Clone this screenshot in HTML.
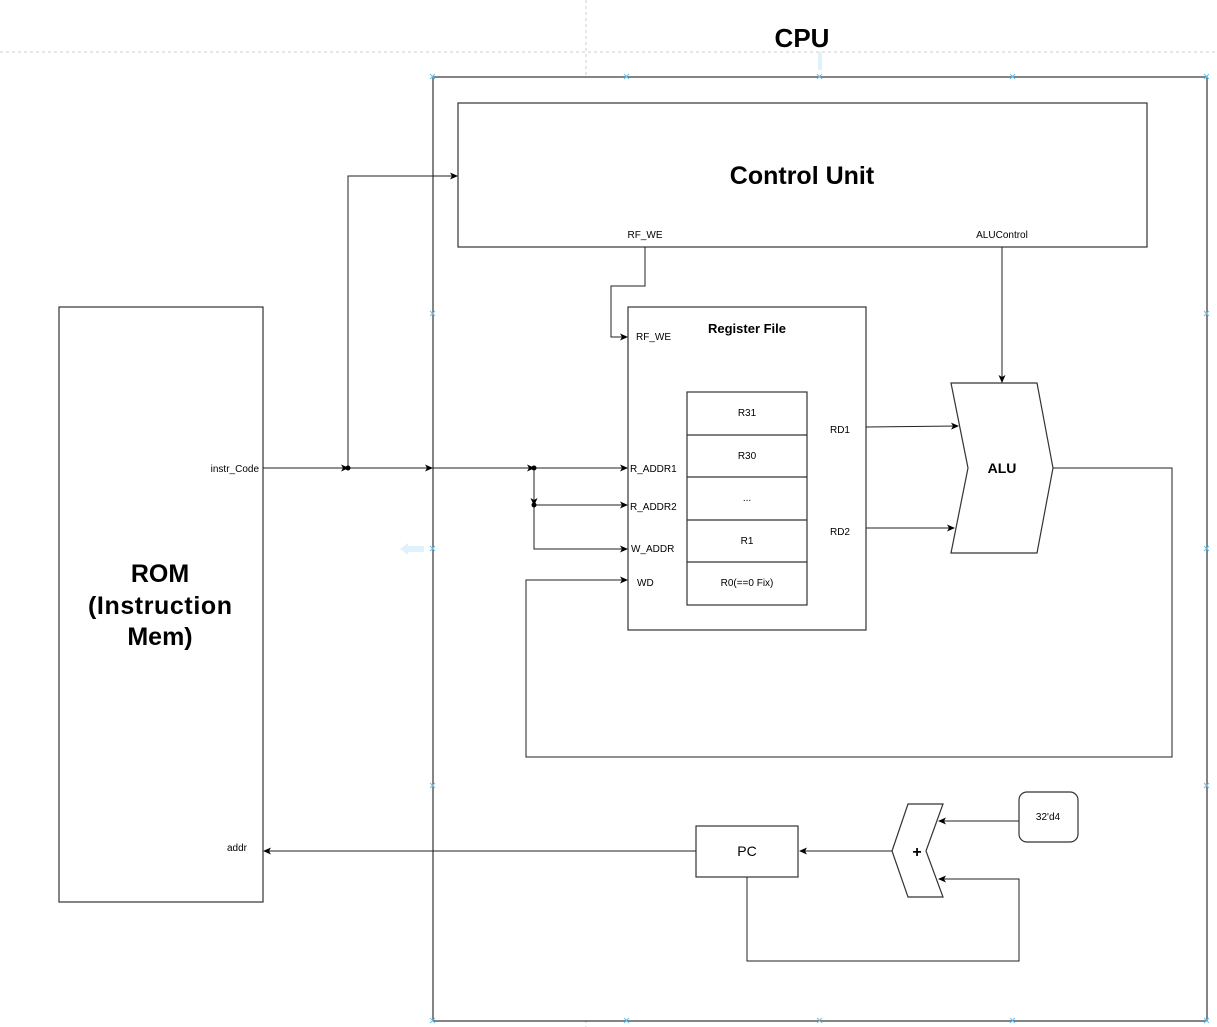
<!DOCTYPE html>
<html><head><style>body{margin:0;background:#fff}svg{display:block}text{font-family:"Liberation Sans",Arial,sans-serif}</style></head>
<body>
<svg width="1217" height="1027" viewBox="0 0 1217 1027" xmlns="http://www.w3.org/2000/svg">
<defs><marker id="a" markerWidth="8" markerHeight="8" refX="7" refY="4" orient="auto" markerUnits="userSpaceOnUse"><path d="M0,0.5 L8,4 L0,7.5 L2,4z" fill="#000"/></marker></defs>
<g stroke="#ccc" stroke-dasharray="3,3" stroke-width="1"><line x1="0" y1="52" x2="1217" y2="52"/><line x1="586" y1="0" x2="586" y2="76"/><line x1="586" y1="1020" x2="586" y2="1027"/></g>
<rect x="818" y="52" width="4" height="18" fill="#dff1fb"/>
<path d="M400,549 l8,-6 v3 h16 v6 h-16 v3z" fill="#dff1fb"/>
<g fill="none" stroke="#333" stroke-width="1.2">
<rect x="433" y="77" width="774" height="944"/>
<rect x="458" y="103" width="689" height="144"/>
<rect x="59" y="307" width="204" height="595"/>
<rect x="628" y="307" width="238" height="323"/>
<rect x="687" y="392" width="120" height="213"/>
<line x1="687" y1="435" x2="807" y2="435"/><line x1="687" y1="477" x2="807" y2="477"/><line x1="687" y1="520" x2="807" y2="520"/><line x1="687" y1="562" x2="807" y2="562"/>
<polygon points="951,383 1037,383 1053,468 1037,553 951,553 968,468"/>
<rect x="696" y="826" width="102" height="51"/>
<polygon points="908,804 943,804 926,851 943,897 908,897 892,851"/>
<rect x="1019" y="792" width="59" height="50" rx="8"/>
</g>
<g fill="none" stroke="#222" stroke-width="1">
<path d="M263,468 H348" marker-end="url(#a)"/>
<path d="M348,468 V176 H457" marker-end="url(#a)"/>
<path d="M348,468 H432" marker-end="url(#a)"/>
<path d="M432,468 H534" marker-end="url(#a)"/>
<path d="M534,468 H627" marker-end="url(#a)"/>
<path d="M534,468 V505" marker-end="url(#a)"/>
<path d="M534,505 H627" marker-end="url(#a)"/>
<path d="M534,505 V549 H627" marker-end="url(#a)"/>
<path d="M645,247 V286 H611 V337 H627" marker-end="url(#a)"/>
<path d="M1002,247 V382" marker-end="url(#a)"/>
<path d="M866,427 L958,426" marker-end="url(#a)"/>
<path d="M866,528 H954" marker-end="url(#a)"/>
<path d="M1053,468 H1172 V757 H526 V580 H627" marker-end="url(#a)"/>
<path d="M696,851 H264" marker-end="url(#a)"/>
<path d="M892,851 H800" marker-end="url(#a)"/>
<path d="M1019,821 H939" marker-end="url(#a)"/>
<path d="M747,877 V961 H1019 V879 H939" marker-end="url(#a)"/>
</g>
<circle cx="348" cy="468" r="2.5"/><circle cx="534" cy="468" r="2.5"/><circle cx="534" cy="505" r="2.5"/>
<g fill="#000">
<text x="802" y="47" font-size="26" font-weight="bold" text-anchor="middle">CPU</text>
<text x="802" y="184" font-size="25" font-weight="bold" text-anchor="middle">Control Unit</text>
<text x="645" y="238" font-size="10" text-anchor="middle">RF_WE</text>
<text x="1002" y="238" font-size="10" text-anchor="middle">ALUControl</text>
<text x="747" y="333" font-size="13" font-weight="bold" text-anchor="middle">Register File</text>
<text x="636" y="340" font-size="10">RF_WE</text>
<text x="630" y="472" font-size="10">R_ADDR1</text>
<text x="630" y="510" font-size="10">R_ADDR2</text>
<text x="631" y="552" font-size="10">W_ADDR</text>
<text x="637" y="586" font-size="10">WD</text>
<text x="840" y="433" font-size="10" text-anchor="middle">RD1</text>
<text x="840" y="535" font-size="10" text-anchor="middle">RD2</text>
<text x="747" y="416" font-size="10" text-anchor="middle">R31</text>
<text x="747" y="459" font-size="10" text-anchor="middle">R30</text>
<text x="747" y="501" font-size="10" text-anchor="middle">...</text>
<text x="747" y="544" font-size="10" text-anchor="middle">R1</text>
<text x="747" y="586" font-size="10" text-anchor="middle">R0(==0 Fix)</text>
<text x="1002" y="473" font-size="14" font-weight="bold" text-anchor="middle">ALU</text>
<text x="259" y="472" font-size="10" text-anchor="end">instr_Code</text>
<text x="247" y="851" font-size="10" text-anchor="end">addr</text>
<text x="160" y="582" font-size="25" font-weight="bold" text-anchor="middle">ROM</text>
<text x="160" y="614" font-size="25" font-weight="bold" text-anchor="middle" textLength="144">(Instruction</text>
<text x="160" y="645" font-size="25" font-weight="bold" text-anchor="middle">Mem)</text>
<text x="747" y="856" font-size="14" text-anchor="middle">PC</text>
<text x="917" y="857" font-size="16" font-weight="bold" text-anchor="middle">+</text>
<text x="1048" y="820" font-size="10" text-anchor="middle">32'd4</text>
</g>
<g stroke="#6cc2ee" stroke-width="1">
<path d="M430,74l5,5M435,74l-5,5M624,74l5,5M629,74l-5,5M817,74l5,5M822,74l-5,5M1010,74l5,5M1015,74l-5,5M1204,74l5,5M1209,74l-5,5M430,311l5,5M435,311l-5,5M1204,311l5,5M1209,311l-5,5M430,546l5,5M435,546l-5,5M1204,546l5,5M1209,546l-5,5M430,783l5,5M435,783l-5,5M1204,783l5,5M1209,783l-5,5M430,1018l5,5M435,1018l-5,5M624,1018l5,5M629,1018l-5,5M817,1018l5,5M822,1018l-5,5M1010,1018l5,5M1015,1018l-5,5M1204,1018l5,5M1209,1018l-5,5"/>
</g>
</svg>
</body></html>
